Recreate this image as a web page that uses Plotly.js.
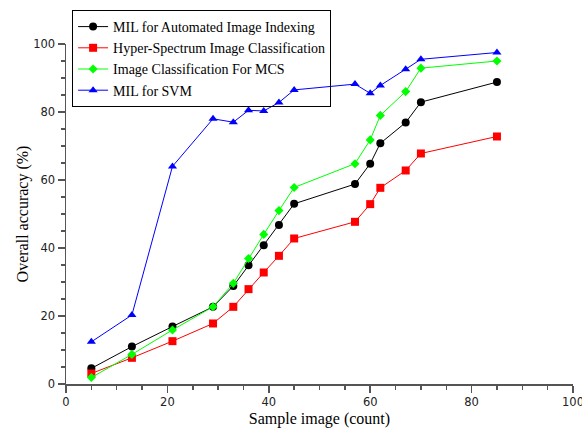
<!DOCTYPE html>
<html>
<head>
<meta charset="utf-8">
<script src="https://cdn.plot.ly/plotly-3.0.1.min.js"></script>
<style>html,body{margin:0;padding:0;background:#fff;}#chart{width:582px;height:428px;}</style>
</head>
<body>
<div id="chart"></div>
<script>
const xMil = [5, 13, 21, 29, 33, 36, 39, 42, 45, 57, 60, 62, 67, 70, 85];
const yMilAuto = [4.6, 11, 16.9, 22.7, 28.8, 34.9, 40.8, 46.8, 53, 58.8, 64.8, 70.8, 76.9, 82.9, 88.8];
const yHyper = [3.1, 7.7, 12.6, 17.8, 22.7, 27.9, 32.8, 37.7, 42.8, 47.7, 52.9, 57.7, 62.8, 67.8, 72.8];
const yMcs = [1.9, 8.7, 15.9, 22.7, 29.6, 36.9, 44, 51, 57.8, 64.8, 71.8, 79, 86, 92.9, 95];
const ySvm = [12.4, 20.3, 64, 78, 77, 80.5, 80.3, 82.8, 86.5, 88.2, 85.5, 87.8, 92.6, 95.5, 97.5];
const seriesNames = ["MIL for Automated Image Indexing", "Hyper-Spectrum Image Classification", "Image Classification For MCS", "MIL for SVM"];
const xTitle = "Sample image (count)";
const yTitle = "Overall accuracy (%)";

const serif = "Liberation Serif";

const traces = [
  {x: xMil, y: yMilAuto, name: seriesNames[0], mode: "lines+markers", line: {color: "#000000", width: 1}, marker: {symbol: "circle", size: 8, color: "#000000"}},
  {x: xMil, y: yHyper, name: seriesNames[1], mode: "lines+markers", line: {color: "#ff0000", width: 1}, marker: {symbol: "square", size: 8, color: "#ff0000"}},
  {x: xMil, y: yMcs, name: seriesNames[2], mode: "lines+markers", line: {color: "#00ff00", width: 1}, marker: {symbol: "diamond", size: 7, color: "#00ff00"}},
  {x: xMil, y: ySvm, name: seriesNames[3], mode: "lines+markers", line: {color: "#0000ff", width: 1}, marker: {symbol: "triangle-up", size: 8, color: "#0000ff"}}
];

const axisCommon = {
  showgrid: false, zeroline: false, showline: true, linecolor: "#555555", linewidth: 1.5,
  ticks: "outside", ticklen: 7, tickcolor: "#555555", tickwidth: 1.5,
  tickfont: {family: "DejaVu Sans", size: 11.5, color: "#222222"},
  ticklabeloverflow: "allow",
  minor: {dtick: 5, ticks: "outside", ticklen: 4, tickcolor: "#555555", tickwidth: 1.5}
};

const layout = {
  width: 582, height: 428,
  margin: {l: 66, r: 9, t: 44, b: 44},
  paper_bgcolor: "#ffffff", plot_bgcolor: "#ffffff",
  showlegend: true,
  xaxis: Object.assign({}, axisCommon, {range: [0, 100], dtick: 20, tick0: 0,
    title: {text: xTitle, font: {family: serif, size: 16, color: "#000"}, standoff: 4}}),
  yaxis: Object.assign({}, axisCommon, {range: [0, 100], dtick: 20, tick0: 0,
    title: {text: yTitle, font: {family: serif, size: 16, color: "#000"}, standoff: 0}}),
  legend: {x: 0.012, y: 1.1, xanchor: "left", yanchor: "top", bgcolor: "rgba(255,255,255,0)",
    bordercolor: "#000000", borderwidth: 1, font: {family: serif, size: 14, color: "#000"},
    tracegroupgap: 0, itemwidth: 30, entrywidth: 215, entrywidthmode: "pixels"}
};

Plotly.newPlot("chart", traces, layout, {displayModeBar: false, staticPlot: true});
</script>
</body>
</html>
